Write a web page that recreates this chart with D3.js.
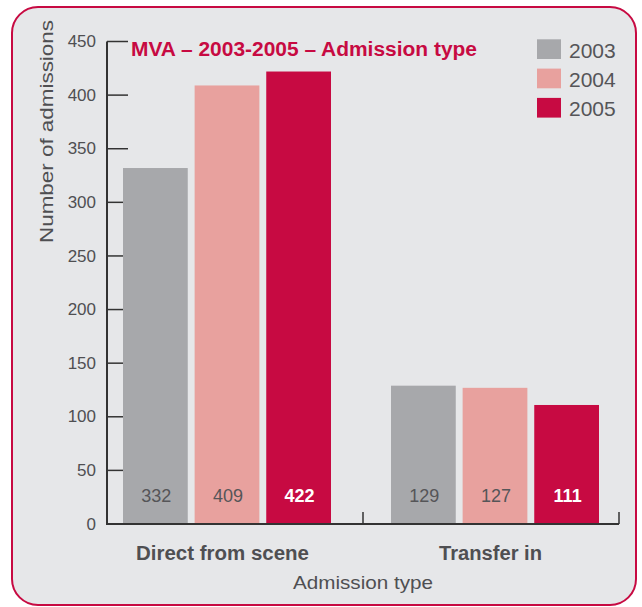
<!DOCTYPE html>
<html><head><meta charset="utf-8">
<script src="https://cdn.jsdelivr.net/npm/d3@7"></script>
<style>
html,body{margin:0;padding:0;background:#fff;}
text{font-family:"Liberation Sans",Arial,sans-serif;}
</style></head>
<body>
<svg id="c" width="642" height="607"></svg>
<script>
const categories = ["Direct from scene", "Transfer in"];
const years = ["2003", "2004", "2005"];
const values2003 = [332, 129];
const values2004 = [409, 127];
const values2005 = [422, 111];
const yTicks = [0, 50, 100, 150, 200, 250, 300, 350, 400, 450];
const colors = ["#a7a8ab", "#e8a19e", "#c70a42"];
const labelColors = ["#555558", "#555558", "#ffffff"];
const title = "MVA – 2003-2005 – Admission type";
const yTitle = "Number of admissions";
const xTitle = "Admission type";

const series = [values2003, values2004, values2005];
const svg = d3.select("#c");
const textCol = "#4f4f52";

// panel
svg.append("rect").attr("x", 12).attr("y", 7).attr("width", 624).attr("height", 598)
  .attr("rx", 26).attr("ry", 26).attr("fill", "#e6e7e9").attr("stroke", "#c70a42").attr("stroke-width", 2);

const axL = 107, axR = 619, y0 = 524;
const y = d3.scaleLinear().domain([0, 450]).range([y0, 41.5]);
const x0 = d3.scaleBand().domain(categories).range([93, 629]).padding(0);
const x1 = d3.scaleBand().domain(years).range([30, 238]).paddingInner(0.096).paddingOuter(0);

// y ticks (beneath bars)
const yt = svg.append("g");
yTicks.forEach(t => {
  yt.append("line").attr("x1", axL).attr("x2", axL + 21).attr("y1", y(t)).attr("y2", y(t))
    .attr("stroke", "#333").attr("stroke-width", 1.5);
  yt.append("text").attr("x", 96).attr("y", y(t)).attr("dy", "0.33em").attr("text-anchor", "end")
    .attr("font-size", 17).attr("fill", textCol).text(t);
});

// bars
const g = svg.append("g");
categories.forEach((cat, ci) => {
  years.forEach((yr, yi) => {
    const v = series[yi][ci];
    const bx = x0(cat) + x1(yr);
    g.append("rect").attr("x", bx).attr("y", y(v)).attr("width", x1.bandwidth())
      .attr("height", y0 - y(v)).attr("fill", colors[yi]);
    g.append("text").attr("x", bx + x1.bandwidth() / 2 + 1).attr("y", 501.5)
      .attr("text-anchor", "middle").attr("font-size", 18).attr("font-weight", yi === 2 ? "bold" : "normal")
      .attr("fill", labelColors[yi]).text(v);
  });
});

// y axis line
svg.append("line").attr("x1", axL).attr("x2", axL).attr("y1", y(450)).attr("y2", y0 + 1)
  .attr("stroke", "#333").attr("stroke-width", 2);

// x axis
const xa = svg.append("g");
xa.append("line").attr("x1", axL).attr("x2", axR).attr("y1", y0).attr("y2", y0)
  .attr("stroke", "#333").attr("stroke-width", 2);
[x0(categories[1]) + 2, axR].forEach(px => {
  xa.append("line").attr("x1", px).attr("x2", px).attr("y1", y0).attr("y2", y0 - 12)
    .attr("stroke", "#333").attr("stroke-width", 1.5);
});
const catLen = [173, 103];
categories.forEach((cat, ci) => {
  xa.append("text").attr("x", x0(cat) + (x1.range()[0] + x1.range()[1]) / 2 - 4.5)
    .attr("y", 559.5).attr("text-anchor", "middle").attr("font-size", 19.5).attr("font-weight", "bold")
    .attr("textLength", catLen[ci]).attr("lengthAdjust", "spacingAndGlyphs")
    .attr("fill", textCol).text(cat);
});
svg.append("text").attr("x", 363).attr("y", 589).attr("text-anchor", "middle")
  .attr("font-size", 18.5).attr("textLength", 140).attr("lengthAdjust", "spacingAndGlyphs")
  .attr("fill", textCol).text(xTitle);

// y title
svg.append("text").attr("transform", "translate(53,131.5) rotate(-90)").attr("text-anchor", "middle")
  .attr("font-size", 18.5).attr("textLength", 223).attr("lengthAdjust", "spacingAndGlyphs")
  .attr("fill", textCol).text(yTitle);

// title
svg.append("text").attr("x", 131).attr("y", 55.5).attr("font-size", 20).attr("font-weight", "bold")
  .attr("textLength", 346).attr("lengthAdjust", "spacingAndGlyphs")
  .attr("fill", "#c70a42").text(title);

// legend
years.forEach((yr, i) => {
  svg.append("rect").attr("x", 537).attr("y", 39.3 + i * 29.3).attr("width", 24).attr("height", 19.7).attr("fill", colors[i]);
  svg.append("text").attr("x", 569).attr("y", 58.3 + i * 28.9).attr("font-size", 21)
    .attr("fill", "#555558").text(yr);
});
</script>
</body></html>
